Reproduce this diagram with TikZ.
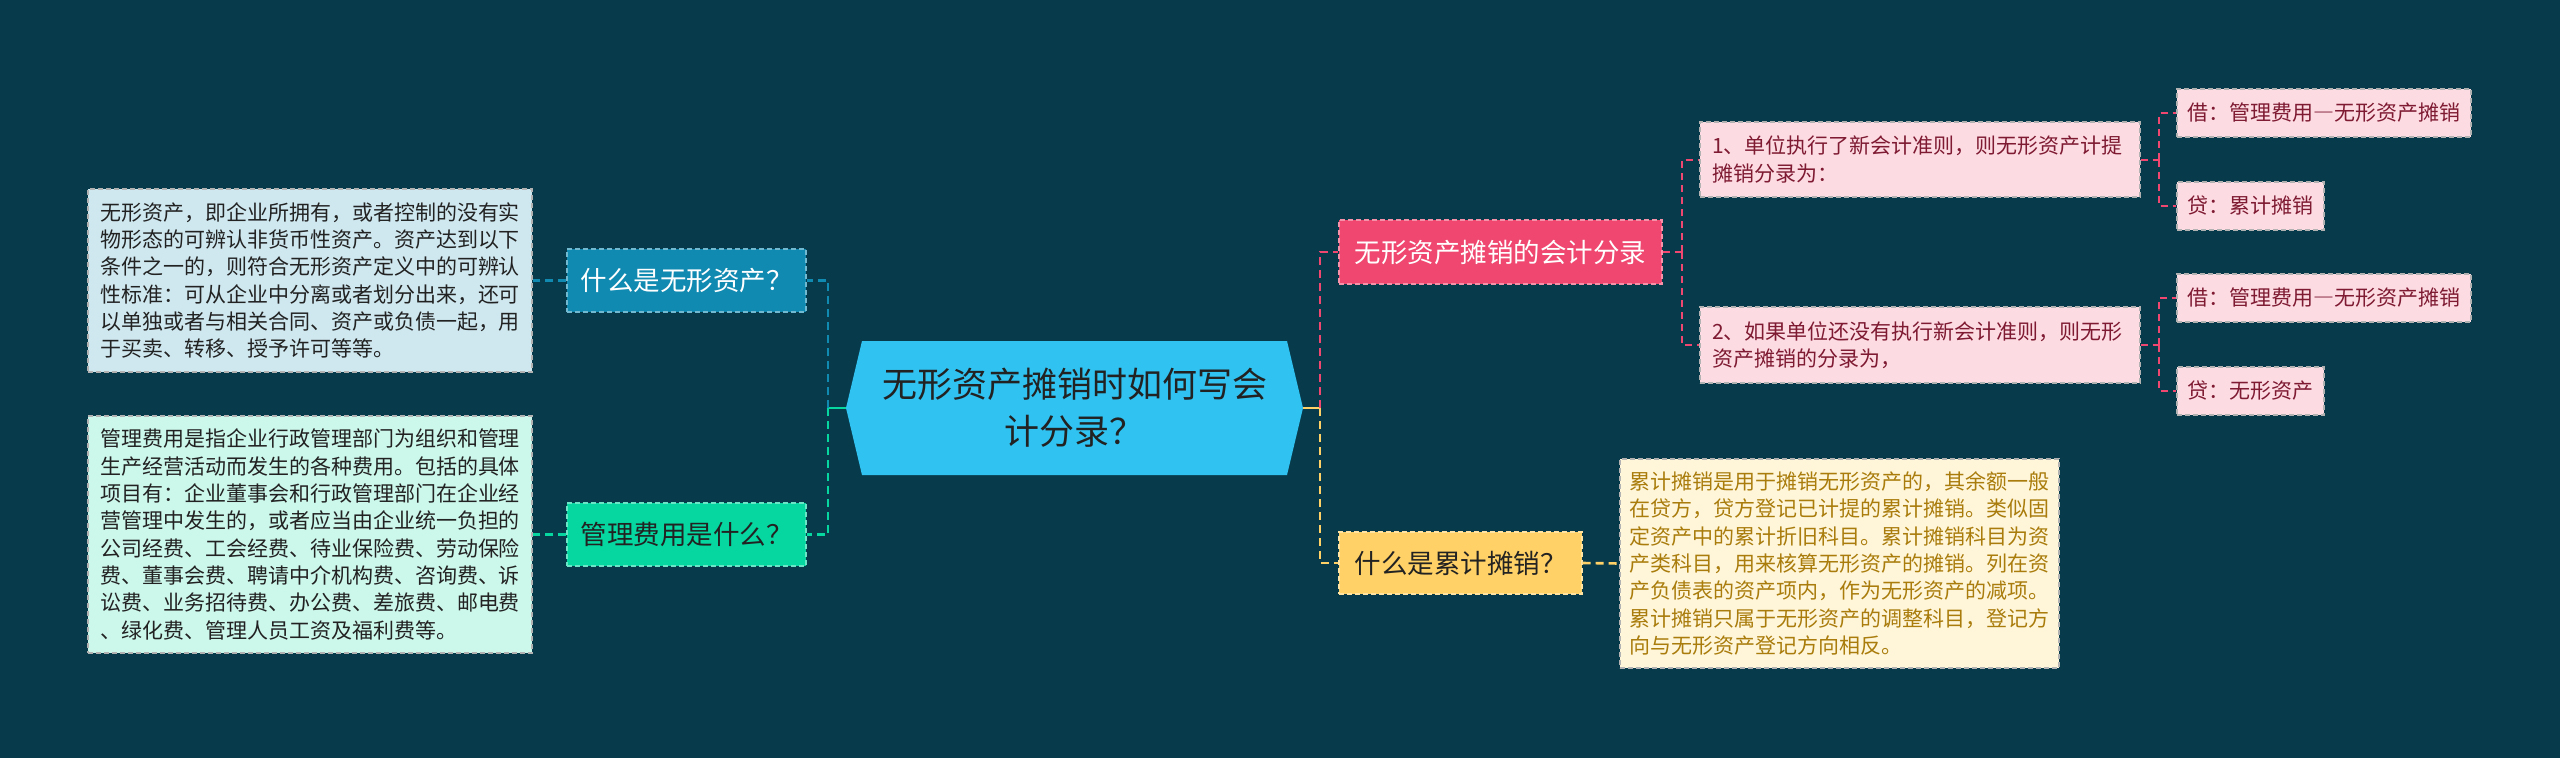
\documentclass[tikz,border=0pt]{standalone}
\usepackage{fontspec}
\setmainfont{Noto Sans CJK SC}
\newfontfamily\fwfont[RawFeature=+fwid]{Noto Sans CJK SC}
\usetikzlibrary{calc}
\definecolor{bg}{HTML}{073B4C}
\definecolor{cBlue}{HTML}{118AB2}
\definecolor{cGreen}{HTML}{06D6A0}
\definecolor{cPink}{HTML}{EF476F}
\definecolor{cYellow}{HTML}{FFD166}
\definecolor{hexFill}{HTML}{30C3F2}
\definecolor{darkText}{HTML}{222222}
\definecolor{boxBlue}{HTML}{CFE8F0}
\definecolor{boxGreen}{HTML}{CCF7EB}
\definecolor{boxCream}{HTML}{FFF6DA}
\definecolor{boxPink}{HTML}{FDDBE2}
\definecolor{creamText}{HTML}{A97C0C}
\definecolor{pinkText}{HTML}{7E1A32}
\tikzset{
  conn/.style={line width=2.6pt, dash pattern=on 8pt off 5pt},
  subconn/.style={line width=2pt, dash pattern=on 7pt off 5pt},
  mainnode/.style={font=\fontsize{26.5}{30}\selectfont, inner sep=0pt, line width=1.2pt, dash pattern=on 5pt off 3pt},
  textbox/.style={font=\fontsize{21}{27.3}\selectfont, align=left, inner ysep=0pt, line width=1.2pt, dash pattern=on 5pt off 3pt, draw=black!30},
  leafbox/.style={font=\fontsize{21}{25}\selectfont, inner sep=0pt, minimum height=48pt, line width=1.2pt, dash pattern=on 5pt off 3pt, draw=black!30, fill=boxPink, text=pinkText},
}
\begin{document}
\begin{tikzpicture}[x=1pt,y=-1pt]
\useasboundingbox (0,0) rectangle (2560,758);
\fill[bg] (0,0) rectangle (2560,758);

% root hexagon
\fill[hexFill] (846,408) -- (862,341) -- (1287,341) -- (1303,408) -- (1287,475) -- (862,475) -- cycle;
\node[font=\fontsize{35}{47}\selectfont, align=center, text=darkText, minimum width=457pt, minimum height=134pt, inner sep=0pt] (root) at (1074.5,408) {无形资产摊销时如何写会\\计分录？};

% left branch
\node[mainnode, fill=cBlue, draw=cBlue!60!white, text=white, minimum width=239pt, minimum height=63pt] (q1) at (686.5,280.5) {什么是无形资产？};
\node[mainnode, fill=cGreen, draw=cGreen!60!white, text=darkText, minimum width=239pt, minimum height=63pt] (q2) at (686.5,534.5) {管理费用是什么？};

\node[textbox, fill=boxBlue, text=darkText, text width=420pt, inner xsep=12pt, minimum height=183pt] (t1) at (310,280.5) {无形资产，即企业所拥有，或者控制的没有实\\物形态的可辨认非货币性资产。资产达到以下\\条件之一的，则符合无形资产定义中的可辨认\\性标准：可从企业中分离或者划分出来，还可\\以单独或者与相关合同、资产或负债一起，用\\于买卖、转移、授予许可等等。};
\node[textbox, fill=boxGreen, text=darkText, text width=420pt, inner xsep=12pt, minimum height=237pt] (t2) at (310,534.5) {管理费用是指企业行政管理部门为组织和管理\\生产经营活动而发生的各种费用。包括的具体\\项目有：企业董事会和行政管理部门在企业经\\营管理中发生的，或者应当由企业统一负担的\\公司经费、工会经费、待业保险费、劳动保险\\费、董事会费、聘请中介机构费、咨询费、诉\\讼费、业务招待费、办公费、差旅费、邮电费\\、绿化费、管理人员工资及福利费等。};

% right branch
\node[mainnode, fill=cPink, draw=cPink!60!white, text=white, minimum width=323pt, minimum height=64pt] (r1) at (1500.5,252) {无形资产摊销的会计分录};
\node[mainnode, fill=cYellow, draw=cYellow!60!white, text=darkText, minimum width=243pt, minimum height=62pt] (r2) at (1460.5,563) {什么是累计摊销？};

\node[textbox, fill=boxCream, text=creamText, text width=420pt, inner xsep=9.5pt, minimum height=209pt] (c1) at (1839.5,563.5) {累计摊销是用于摊销无形资产的，其余额一般\\在贷方，贷方登记已计提的累计摊销。类似固\\定资产中的累计折旧科目。累计摊销科目为资\\产类科目，用来核算无形资产的摊销。列在资\\产负债表的资产项内，作为无形资产的减项。\\累计摊销只属于无形资产的调整科目，登记方\\向与无形资产登记方向相反。};

\node[textbox, fill=boxPink, text=pinkText, text width=416pt, inner xsep=12pt, minimum height=75pt] (p1) at (1920,159.5) {1、单位执行了新会计准则，则无形资产计提\\摊销分录为：};
\node[textbox, fill=boxPink, text=pinkText, text width=416pt, inner xsep=12pt, minimum height=76pt] (p2) at (1920,345) {2、如果单位还没有执行新会计准则，则无形\\资产摊销的分录为，};

\node[leafbox, minimum width=294pt] (l1) at (2324,113) {借：管理费用{\fwfont —}无形资产摊销};
\node[leafbox, minimum width=147pt] (l2) at (2250.5,206) {贷：累计摊销};
\node[leafbox, minimum width=294pt] (l3) at (2324,298) {借：管理费用{\fwfont —}无形资产摊销};
\node[leafbox, minimum width=147pt] (l4) at (2250.5,391) {贷：无形资产};

% connectors left
\coordinate (jL) at (828,408);
\draw[line width=2.6pt, cGreen] (root.west) -- (jL);
\draw[conn, cBlue] (jL) |- (q1.east);
\draw[conn, cGreen] (jL) |- (q2.east);
\draw[conn, cBlue] (q1.west) -- (t1.east);
\draw[conn, cGreen] (q2.west) -- (t2.east);

% connectors right
\coordinate (jR) at (1320,408);
\draw[line width=2.6pt, cYellow] (root.east) -- (jR);
\draw[conn, cPink] (jR) |- (r1.west);
\draw[conn, cYellow] (jR) |- (r2.west);
\draw[conn, cYellow] (r2.east) -- (c1.west);

\coordinate (jP) at (1682,252);
\draw[subconn, cPink] (r1.east) -- (jP);
\draw[subconn, cPink] (jP) |- (p1.west);
\draw[subconn, cPink] (jP) |- (p2.west);

\coordinate (jA) at (2159,159.5);
\draw[subconn, cPink] (p1.east) -- (jA);
\draw[subconn, cPink] (jA) |- (l1.west);
\draw[subconn, cPink] (jA) |- (l2.west);

\coordinate (jB) at (2159,345);
\draw[subconn, cPink] (p2.east) -- (jB);
\draw[subconn, cPink] (jB) |- (l3.west);
\draw[subconn, cPink] (jB) |- (l4.west);
\end{tikzpicture}
\end{document}
